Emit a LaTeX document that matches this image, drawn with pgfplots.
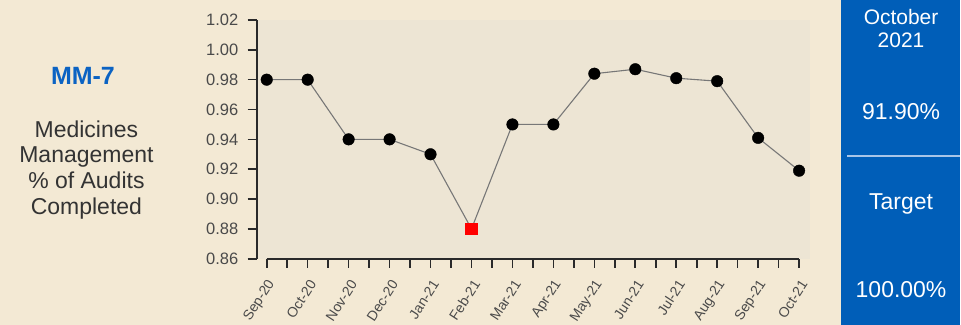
\documentclass[border=0pt]{standalone}
\usepackage{pgfplots}
\pgfplotsset{compat=1.18}
\usepackage{fontspec}
\setmainfont{Liberation Sans}
\definecolor{outerbg}{HTML}{F3E9D4}
\definecolor{plotbg}{HTML}{EDE5D4}
\definecolor{nhsblue}{HTML}{005EB8}
\definecolor{titleblue}{HTML}{0B63C3}
\definecolor{txt}{HTML}{333333}
\definecolor{ticktxt}{HTML}{4A4A4A}
\definecolor{axisc}{HTML}{2A2A2A}
\definecolor{divider}{HTML}{A8C5E8}
\definecolor{linec}{HTML}{777777}
\begin{document}
\begin{tikzpicture}[x=1pt,y=1pt]
\fill[outerbg] (0,0) rectangle (961,325);
\fill[nhsblue] (842,0) rectangle (961,325);
\draw[divider, line width=2pt] (848,169) -- (961,169);
\useasboundingbox (0,0) rectangle (961,325);
% left text
\node[anchor=base, font=\fontsize{25}{25}\selectfont\bfseries, text=titleblue] at (83,240.5) {MM-7};
\begin{scope}[every node/.style={anchor=base, font=\fontsize{23}{23}\selectfont, text=txt}]
\node at (86.5,187) {Medicines};
\node at (86.5,162) {Management};
\node at (86.5,136.5) {\% of Audits};
\node at (86.5,110.5) {Completed};
\end{scope}
% right panel
\begin{scope}[every node/.style={anchor=base, font=\fontsize{23}{23}\selectfont, text=white}]
\node[font=\fontsize{21}{21}\selectfont] at (902,300) {October};
\node[font=\fontsize{21}{21}\selectfont] at (902,277) {2021};
\node at (902,205) {91.90\%};
\node at (902,115) {Target};
\node at (902,27) {100.00\%};
\end{scope}
\begin{axis}[
  at={(257pt,66pt)}, anchor=south west,
  scale only axis, width=554pt, height=239pt,
  xmin=-0.244, xmax=13.27, ymin=0.86, ymax=1.02,
  clip=false,
  axis background/.style={fill=plotbg},
  axis line style={draw=none},
  xtick={0,...,13},
  xticklabels={Sep-20,Oct-20,Nov-20,Dec-20,Jan-21,Feb-21,Mar-21,Apr-21,May-21,Jun-21,Jul-21,Aug-21,Sep-21,Oct-21},
  minor x tick num=1,
  ytick={0.86,0.88,0.90,0.92,0.94,0.96,0.98,1.00,1.02},
  xtick pos=bottom, ytick pos=left,
  tick align=outside,
  major tick length=9pt, minor tick length=9pt,
  tick style={axisc, line width=1.6pt},
  /pgf/number format/assume math mode=true,
  yticklabel style={font=\fontsize{16.5}{16.5}\selectfont, text=ticktxt, xshift=-6pt,
    /pgf/number format/fixed, /pgf/number format/fixed zerofill, /pgf/number format/precision=2},
  xticklabel style={font=\fontsize{14}{14}\selectfont, text=ticktxt, xshift=7pt, yshift=-11pt, rotate=57, anchor=east},
]
\draw[axisc, line width=2pt] (axis cs:-0.244,0.86) -- (axis cs:-0.244,1.02);
\draw[axisc, line width=2pt] (axis cs:0,0.86) -- (axis cs:13,0.86);
\addplot[linec, line width=1.1pt, mark=none] coordinates {
(0,0.980) (1,0.980) (2,0.940) (3,0.940) (4,0.930) (5,0.880) (6,0.950)
(7,0.950) (8,0.984) (9,0.987) (10,0.981) (11,0.979) (12,0.941) (13,0.919)};
\addplot[only marks, mark=*, mark size=5.8pt, black] coordinates {
(0,0.980) (1,0.980) (2,0.940) (3,0.940) (4,0.930) (6,0.950)
(7,0.950) (8,0.984) (9,0.987) (10,0.981) (11,0.979) (12,0.941) (13,0.919)};
\addplot[only marks, mark=square*, mark size=5.8pt, red] coordinates {(5,0.880)};
\end{axis}
\end{tikzpicture}
\end{document}
